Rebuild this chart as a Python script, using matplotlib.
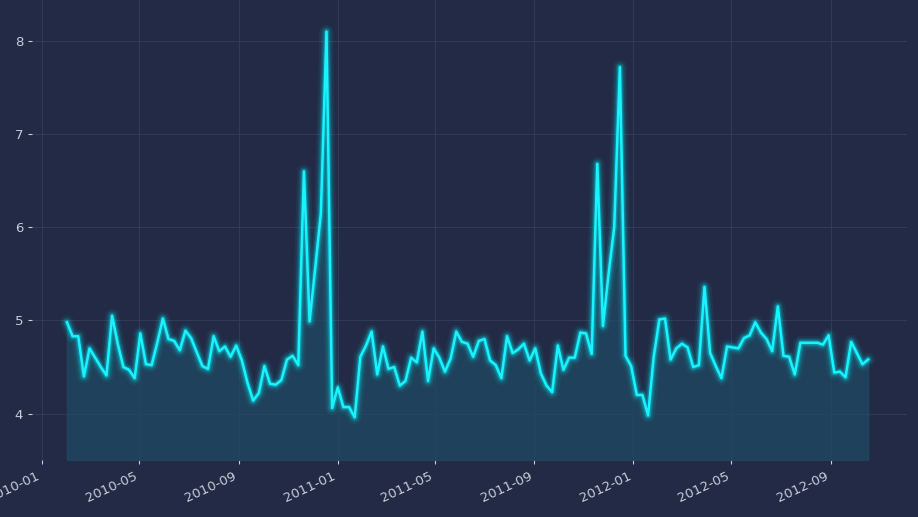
import matplotlib
matplotlib.use("Agg")
import matplotlib.pyplot as plt
import matplotlib.dates as mdates
import pandas as pd
import numpy as np

sales = [4.98,4.83,4.83,4.40,4.70,4.60,4.50,4.41,5.05,4.75,4.50,4.47,4.38,4.86,4.53,4.52,4.76,5.02,4.80,4.78,4.68,4.89,4.81,4.66,4.51,4.48,4.83,4.67,4.72,4.61,4.73,4.57,4.33,4.14,4.22,4.51,4.32,4.31,4.36,4.58,4.62,4.52,6.60,4.99,5.56,6.15,8.10,4.06,
 4.28,4.07,4.07,3.96,4.61,4.73,4.88,4.42,4.72,4.48,4.50,4.30,4.35,4.60,4.55,4.88,4.35,4.70,4.60,4.45,4.59,4.88,4.77,4.75,4.61,4.78,4.80,4.57,4.52,4.38,4.83,4.65,4.69,4.75,4.57,4.70,4.43,4.30,4.23,4.73,4.47,4.60,4.60,4.87,4.86,4.64,6.68,4.94,5.50,6.00,7.72,4.62,
 4.51,4.20,4.20,3.98,4.61,5.01,5.02,4.58,4.70,4.75,4.71,4.50,4.52,5.36,4.65,4.51,4.38,4.72,4.71,4.70,4.81,4.84,4.98,4.87,4.80,4.67,5.15,4.62,4.61,4.42,4.76,4.76,4.76,4.76,4.74,4.84,4.44,4.45,4.39,4.77,4.65,4.53,4.58]
dates = pd.date_range("2010-02-01", "2012-10-17", periods=len(sales))

bg = "#222a45"
fig = plt.figure(figsize=(9.18, 5.17), dpi=100, facecolor=bg)
ax = fig.add_axes([0.035, 0.11, 0.953, 0.89], facecolor=bg)
ymin = 3.5
ax.fill_between(dates, sales, ymin, color="#1f4a63", alpha=0.75, zorder=1)
for lw, a in [(10, 0.06), (7, 0.1), (5, 0.15), (3.5, 0.25)]:
    ax.plot(dates, sales, color="#00f5ff", lw=lw, alpha=a, solid_capstyle="round", zorder=2)
ax.plot(dates, sales, color="#19f3ff", lw=1.8, zorder=3)

ax.set_ylim(ymin, 8.44)
ax.set_xlim(pd.Timestamp("2009-12-20"), pd.Timestamp("2012-12-04"))
ax.set_yticks([4, 5, 6, 7, 8])
ax.xaxis.set_major_locator(mdates.MonthLocator(bymonth=[1, 5, 9]))
ax.xaxis.set_major_formatter(mdates.DateFormatter("%Y-%m"))
for lab in ax.get_xticklabels():
    lab.set_rotation(25); lab.set_ha("right"); lab.set_fontsize(9.5)
ax.tick_params(colors="#c8cbd6", labelsize=9.5, length=3)
ax.grid(True, color="#34405e", lw=0.8, alpha=0.8)
ax.set_axisbelow(True)
for s in ax.spines.values():
    s.set_visible(False)
fig.savefig("out.png", dpi=100, facecolor=bg)
